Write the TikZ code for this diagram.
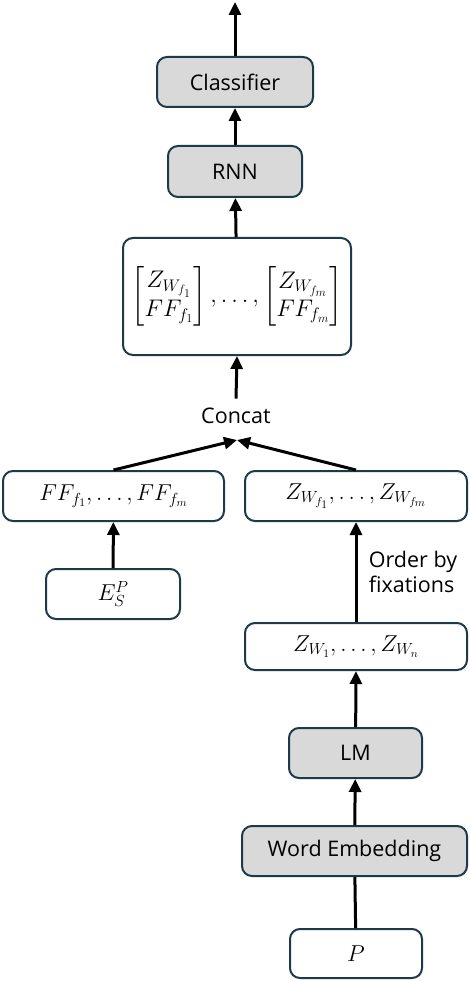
\RequirePackage{fix-cm}
\documentclass[tikz,border=0pt]{standalone}
\usepackage{amsmath}
\usepackage{fontspec}
\setmainfont{Open Sans}
\usetikzlibrary{arrows.meta,positioning}
\definecolor{boxline}{HTML}{1C3A4A}
\definecolor{boxfill}{HTML}{D9D9D9}
\newcommand{\mathsz}{\fontsize{23}{27}\selectfont}
\tikzset{
	block/.style={draw=boxline, line width=2pt, rounded corners=10pt, fill=white, inner sep=0pt, align=center},
	grayblock/.style={block, fill=boxfill},
	flow/.style={->, line width=3pt},
}
\begin{document}
\begin{tikzpicture}[x=1pt, y=-1pt, >={Triangle[length=13pt,width=12pt]}, font=\fontsize{21.5}{25}\selectfont, line join=round]
		\useasboundingbox (0,0) rectangle (470,981);
		% Hộp
		\node[grayblock, minimum width=156pt, minimum height=50pt] (cls) at (235,82) {Classifier};
		\node[grayblock, minimum width=134pt, minimum height=51pt] (rnn) at (235,171.5) {RNN};
		\node[block, minimum width=228pt, minimum height=117pt] (mat) at (237,296.5) {\fontsize{24}{28}\selectfont $\begin{bmatrix} Z_{W_{f_1}} \\ FF_{f_1} \end{bmatrix}, \ldots, \begin{bmatrix} Z_{W_{f_m}} \\ FF_{f_m} \end{bmatrix}$};
		\node (concat) at (236,416) {Concat};
		\coordinate (join) at (237,440);
		\coordinate (out) at (235,2);
		\node[block, minimum width=221pt, minimum height=50pt] (ff) at (113.5,496) {\mathsz $FF_{f_1}, \ldots, FF_{f_m}$};
		\node[block, minimum width=222pt, minimum height=50pt] (zwf) at (356,496) {\mathsz $Z_{W_{f_1}}, \ldots, Z_{W_{f_m}}$};
		\node[block, minimum width=134pt, minimum height=50pt] (es) at (113,594) {\mathsz $E_S^P$};
		\node[block, minimum width=222pt, minimum height=47pt] (zw) at (356,646.5) {\mathsz $Z_{W_1}, \ldots, Z_{W_n}$};
		\node[grayblock, minimum width=133pt, minimum height=50pt] (lm) at (355.5,753) {LM};
		\node[grayblock, minimum width=225pt, minimum height=50pt] (we) at (354.5,851) {Word Embedding};
		\node[block, minimum width=132pt, minimum height=49pt] (p) at (356,953.5) {\mathsz $P$};
		% Mũi tên
		\draw[flow] (cls.north) -- (out);
		\draw[flow] (rnn) -- (cls);
		\draw[flow] (mat) -- (rnn);
		\draw[flow] (concat.north) ++(0,-6) -- (mat.south);
		\draw[flow] (ff.north) -- (join);
		\draw[flow] (zwf.north) -- (join);
		\draw[flow] (es) -- (ff);
		\draw[flow] (zw) -- node[right=8pt, align=left]{Order by\\fixations} (zwf);
		\draw[flow] (lm) -- (zw.south);
		\draw[flow] (we) -- (lm);
		\draw[line width=3pt] (p) -- (we);
\end{tikzpicture}
\end{document}
